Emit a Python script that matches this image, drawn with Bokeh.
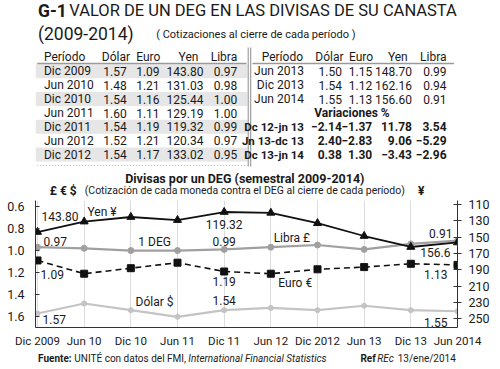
from bokeh.plotting import figure
from bokeh.models import Range1d, LinearAxis, FixedTicker, PrintfTickFormatter
from bokeh.layouts import column
from bokeh.embed import file_html
from bokeh.resources import INLINE
from bokeh.core.properties import value

# ---------------- data ----------------
periods = ["Dic 2009", "Jun 2010", "Dic 2010", "Jun 2011", "Dic 2011", "Jun 2012",
           "Dic 2012", "Jun 2013", "Dic 2013", "Jun 2014"]
x_labels = ["Dic 2009", "Jun 10", "Dic 10", "Jun 11", "Dic 11", "Jun 12",
            "Dic 2012", "Jun 13", "Dic 13", "Jun 2014"]
dolar = [1.57, 1.48, 1.54, 1.60, 1.54, 1.52, 1.54, 1.50, 1.54, 1.55]
euro = [1.09, 1.21, 1.16, 1.11, 1.19, 1.21, 1.17, 1.15, 1.12, 1.13]
yen = [143.80, 131.03, 125.44, 129.19, 119.32, 120.34, 133.02, 148.70, 162.16, 156.60]
libra = [0.97, 0.98, 1.00, 1.00, 0.99, 0.97, 0.95, 0.99, 0.94, 0.91]

var_periods = ["Dc 12-jn 13", "Jn 13-dc 13", "Dc 13-jn 14"]
var_dolar = [-2.14, 2.40, 0.38]
var_euro = [-1.37, -2.83, 1.30]
var_yen = [11.78, 9.06, -3.43]
var_libra = [3.54, -5.29, -2.96]

left_ticks = [0.6, 0.8, 1.0, 1.2, 1.4, 1.6]
right_ticks = [110, 130, 150, 170, 190, 210, 230, 250]

FONT = "Roboto"
INK = "#1a1a1a"
TS = 12      # table font size
TSB = 11.5   # bold table rows
FS = 10      # footer font size


def f2(v):
    s = f"{abs(v):.2f}"
    return ("\u2212" + s) if v < 0 else s


def txt(p, x, y, s, size, align="left", style="normal", color=INK, **kw):
    p.text(x=[x], y=[y], text=[s], text_font=value(FONT), text_font_size=f"{size}px",
           text_align=align, text_baseline="middle", text_font_style=style,
           text_color=color, **kw)


def blank(p):
    p.axis.visible = False
    p.xgrid.visible = False
    p.ygrid.visible = False
    p.outline_line_color = None
    p.min_border = 0


# ---------------- header (title + tables) ----------------
HH = 198
hdr = figure(width=500, height=HH, x_range=Range1d(0, 500), y_range=Range1d(HH, 0),
             output_backend="svg", toolbar_location=None, min_border=0)
blank(hdr)

txt(hdr, 3, 10, "G-1", 17.5, style="bold")
txt(hdr, 40, 10, "VALOR DE UN DEG EN LAS  DIVISAS DE SU CANASTA", 16.5)
txt(hdr, 3, 33, "(2009-2014)", 17.5)
txt(hdr, 143, 34, "( Cotizaciones al cierre de cada período )", 11)

row_y = [70.7, 84.5, 98.5, 112.5, 126.3, 140.2, 154.0]
# shaded rows (left table)
for i in range(0, 7, 2):
    hdr.quad(left=0, right=251, top=row_y[i] - 7, bottom=row_y[i] + 7,
             fill_color="#e6e6e6", line_color=None)
# header underline
hdr.segment(x0=[2, 257], y0=[63, 63], x1=[250, 496], y1=[63, 63],
            line_color="#9a9a9a", line_width=1.5)
# double separator
hdr.segment(x0=[252, 255], y0=[47, 47], x1=[252, 255], y1=[166, 166],
            line_color="#8a8a8a", line_width=1)
hdr.segment(x0=[2], y0=[165], x1=[250], y1=[165], line_color="#bbbbbb",
            line_width=1, line_dash="1 2")

# left table
hy = 56.5
txt(hdr, 10, hy, "Período", TS)
txt(hdr, 112, hy, "Dólar", TS, align="right")
txt(hdr, 148, hy, "Euro", TS, align="right")
txt(hdr, 193, hy, "Yen", TS, align="right")
txt(hdr, 239, hy, "Libra", TS, align="right")
for i in range(7):
    y = row_y[i]
    txt(hdr, 10, y, periods[i], TS)
    txt(hdr, 108, y, f2(dolar[i]), TS, align="right")
    txt(hdr, 147, y, f2(euro[i]), TS, align="right")
    txt(hdr, 199, y, f2(yen[i]), TS, align="right")
    txt(hdr, 239, y, f2(libra[i]), TS, align="right")

# right table
txt(hdr, 317, hy, "Período", TS, align="right")
txt(hdr, 365, hy, "Dólar", TS, align="right")
txt(hdr, 400, hy, "Euro", TS, align="right")
txt(hdr, 441, hy, "Yen", TS, align="right")
txt(hdr, 487, hy, "Libra", TS, align="right")
for k, i in enumerate(range(7, 10)):
    y = row_y[k]
    txt(hdr, 318, y, periods[i], TS, align="right")
    txt(hdr, 363, y, f2(dolar[i]), TS, align="right")
    txt(hdr, 399, y, f2(euro[i]), TS, align="right")
    txt(hdr, 446, y, f2(yen[i]), TS, align="right")
    txt(hdr, 487, y, f2(libra[i]), TS, align="right")
txt(hdr, 375, row_y[3], "Variaciones %", TS, align="center", style="bold")
for k in range(3):
    y = row_y[4 + k]
    txt(hdr, 318, y, var_periods[k], TSB, align="right", style="bold")
    txt(hdr, 363, y, f2(var_dolar[k]), TS, align="right", style="bold")
    txt(hdr, 399, y, f2(var_euro[k]), TS, align="right", style="bold")
    txt(hdr, 446, y, f2(var_yen[k]), TS, align="right", style="bold")
    txt(hdr, 487, y, f2(var_libra[k]), TS, align="right", style="bold")

# chart titles
txt(hdr, 248, 177.5, "Divisas por un DEG (semestral 2009-2014)", 12.5, align="center",
    style="bold")
txt(hdr, 248, 190, "(Cotización de cada moneda contra el DEG al cierre de cada período)", 10.5,
    align="center")
txt(hdr, 17, 190, "£ € $", 12, style="bold")
txt(hdr, 457, 190, "¥", 12, align="center", style="bold")

# ---------------- chart ----------------
xs = list(range(len(periods)))
p = figure(width=500, height=152, x_range=Range1d(-0.043, 9.0),
           y_range=Range1d(1.697, 0.547), output_backend="svg", toolbar_location=None,
           min_border_left=35, min_border_right=43, min_border_top=2, min_border_bottom=20)
p.extra_y_ranges = {"yen": Range1d(260.8, 105.2)}
p.outline_line_color = None

p.xaxis.ticker = FixedTicker(ticks=xs)
p.xaxis.major_label_overrides = {i: lab for i, lab in enumerate(x_labels)}
p.xaxis.major_tick_in = 0
p.xaxis.major_tick_out = 0
p.xaxis.minor_tick_line_color = None
p.xaxis.major_label_standoff = 6
p.xaxis.axis_line_color = "#333333"

p.yaxis.ticker = FixedTicker(ticks=left_ticks)
p.yaxis.formatter = PrintfTickFormatter(format="%.1f")
p.yaxis.major_tick_in = 4
p.yaxis.major_tick_out = 0
p.yaxis.minor_tick_line_color = None
p.yaxis.major_label_standoff = 11
p.yaxis.axis_line_color = "#333333"
p.yaxis.major_tick_line_color = "#333333"

ry = LinearAxis(y_range_name="yen", ticker=FixedTicker(ticks=right_ticks))
ry.major_tick_in = 4
ry.major_tick_out = 4
ry.minor_tick_line_color = None
ry.major_label_standoff = 7
ry.axis_line_color = "#333333"
ry.major_tick_line_color = "#333333"
p.add_layout(ry, "right")

for ax in (p.xaxis[0], p.yaxis[0], ry):
    ax.major_label_text_font = FONT
    ax.major_label_text_font_size = "12.5px"
    ax.major_label_text_color = INK
p.xaxis.major_label_text_font_size = "11.5px"

p.xgrid.ticker = FixedTicker(ticks=xs)
p.xgrid.grid_line_color = "#dcdcdc"
p.ygrid.visible = False

# series
p.line(xs, dolar, line_color="#c4c4c4", line_width=2.2)
p.scatter(xs, dolar, marker="circle", size=5, color="#c4c4c4")
p.line(xs, libra, line_color="#a0a0a0", line_width=2.2)
p.scatter(xs, libra, marker="circle", size=6, color="#a0a0a0")
p.line(xs, euro, line_color="#111111", line_width=1.6, line_dash="6 4")
p.scatter(xs, euro, marker="square", size=7, color="#111111")
p.line(xs, yen, line_color="#111111", line_width=1.8, y_range_name="yen")
p.scatter(xs, yen, marker="triangle", size=8, color="#111111", y_range_name="yen")

# value labels (x index, value, text, align, dx, dy, range)
val_labels = [
    (0, yen[0], f2(yen[0]), "left", 4, -16, "yen"),
    (4, yen[4], f2(yen[4]), "center", 0, 12, "yen"),
    (9, yen[9], f"{yen[9]:g}", "right", -7, 10, "yen"),
    (0, libra[0], f2(libra[0]), "left", 6, -6, "default"),
    (4, libra[4], f2(libra[4]), "center", 0, -8, "default"),
    (9, libra[9], f2(libra[9]), "right", -5, -7, "default"),
    (0, euro[0], f2(euro[0]), "left", 3, 14, "default"),
    (4, euro[4], f2(euro[4]), "center", 0, 10, "default"),
    (9, euro[9], f2(euro[9]), "right", -10, 10, "default"),
    (0, dolar[0], f2(dolar[0]), "left", 5, 6, "default"),
    (4, dolar[4], f2(dolar[4]), "center", 0, -10, "default"),
    (9, dolar[9], f2(dolar[9]), "right", -10, 11, "default"),
]
for xi, v, s, al, dx, dy, rn in val_labels:
    p.text(x=[xi], y=[v], text=[s], x_offset=dx, y_offset=dy, text_align=al,
           text_baseline="middle", text_font=value(FONT), text_font_size="12px",
           text_color=INK, y_range_name=rn)

# series names (x index, left-axis value)
name_labels = [
    (1.07, 0.655, "Yen ¥"),
    (2.16, 0.92, "1 DEG"),
    (5.06, 0.885, "Libra £"),
    (5.16, 1.29, "Euro €"),
    (2.10, 1.467, "Dólar $"),
]
for xi, yv, s in name_labels:
    p.text(x=[xi], y=[yv], text=[s], text_align="left", text_baseline="middle",
           text_font=value(FONT), text_font_size="12px", text_color=INK)

# ---------------- footer ----------------
ftr = figure(width=500, height=19, x_range=Range1d(0, 500), y_range=Range1d(369, 350),
             output_backend="svg", toolbar_location=None, min_border=0)
blank(ftr)
fy = 358
txt(ftr, 3, fy, "Fuente:", FS, style="bold")
txt(ftr, 46, fy, "UNITÉ con datos del FMI,", FS)
txt(ftr, 181, fy, "International Financial Statistics", FS, style="italic")
txt(ftr, 385, fy, "Ref", FS, style="bold")
txt(ftr, 405, fy, "REc", FS, style="italic")
txt(ftr, 498, fy, "13/ene/2014", FS, align="right")

layout = column(hdr, p, ftr, spacing=0)
open("out.html", "w").write(file_html(layout, INLINE))
